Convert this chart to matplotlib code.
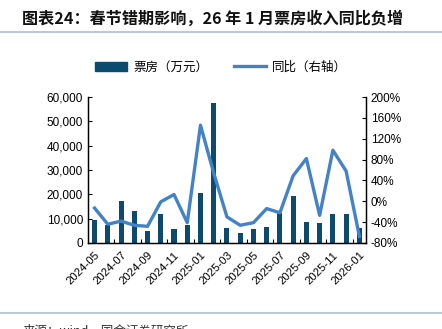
import matplotlib.pyplot as plt
from matplotlib.lines import Line2D
from matplotlib.patches import Patch
from matplotlib.ticker import FuncFormatter, MultipleLocator, FixedLocator
import numpy as np

plt.rcParams['font.family'] = ['Liberation Sans', 'Noto Sans CJK SC', 'DejaVu Sans']

months = ["2024-05", "2024-06", "2024-07", "2024-08", "2024-09", "2024-10", "2024-11",
          "2024-12", "2025-01", "2025-02", "2025-03", "2025-04", "2025-05", "2025-06",
          "2025-07", "2025-08", "2025-09", "2025-10", "2025-11", "2025-12", "2026-01"]
box_office = [9500, 7400, 17400, 13000, 4900, 11800, 5900, 7500, 20500, 57600, 6300,
              4100, 5600, 6400, 12200, 19300, 8700, 8400, 11800, 11900, 6300]
yoy = [-13, -44, -38, -46, -48, -1, 13, -41, 146, 54, -30, -46, -41, -14, -22, 49, 82,
       -27, 98, 58, -67]

bar_color = "#0c4a6e"
line_color = "#4383c5"

fig = plt.figure(figsize=(4.42, 3.29), dpi=100)
ax = fig.add_axes([0.199, 0.2614, 0.629, 0.4436])
ax2 = ax.twinx()

x = np.arange(len(months))
ax.bar(x, box_office, width=0.38, color=bar_color, zorder=2)
ax2.plot(x, yoy, color=line_color, lw=2.4, zorder=3)

ax.set_xlim(-0.5, len(months) - 0.5)
ax.set_ylim(0, 60000)
ax2.set_ylim(-80, 200)
ax.yaxis.set_major_locator(MultipleLocator(10000))
ax.yaxis.set_major_formatter(FuncFormatter(lambda v, p: f"{int(v):,}"))
ax2.yaxis.set_major_locator(MultipleLocator(40))
ax2.yaxis.set_major_formatter(FuncFormatter(lambda v, p: f"{int(v)}%"))

ax.set_xticks(x[::2])
ax.set_xticklabels(months[::2], rotation=45, ha="right", rotation_mode="anchor", fontsize=8.2)
ax.xaxis.set_minor_locator(FixedLocator(np.arange(1.5, len(months), 2)))
ax.tick_params(axis="x", which="major", length=0, pad=5)
ax.tick_params(axis="x", which="minor", length=3, direction="in", width=0.8)
ax.tick_params(axis="y", direction="in", length=3, labelsize=8.5, width=0.8)
ax2.tick_params(axis="y", direction="in", length=3, labelsize=8.5, width=0.8)

for a in (ax, ax2):
    a.spines["top"].set_visible(False)
    for s in ("left", "right", "bottom"):
        a.spines[s].set_linewidth(0.9)
ax.set_zorder(ax2.get_zorder() - 1)
ax2.patch.set_visible(False)
ax2.set_zorder(1)
ax.patch.set_visible(False)

fig.text(0.05, 0.945, "图表24：春节错期影响，26 年 1 月票房收入同比负增", fontsize=11.6,
         fontweight="bold", family=["Noto Sans CJK SC", "DejaVu Sans"], va="center",
         color="#111111")
fig.add_artist(Line2D([0, 1], [0.902, 0.902], color="#a8c0d4", lw=1.2))
fig.add_artist(Line2D([0, 1], [0.049, 0.049], color="#a8c0d4", lw=1.2))

handles = [Patch(color=bar_color), Line2D([0], [0], color=line_color, lw=2.4)]
fig.legend(handles, ["票房（万元）", "同比（右轴）"], loc="center", bbox_to_anchor=(0.5, 0.796),
           ncol=2, frameon=False, prop={"family": ["Noto Sans CJK SC"], "size": 9},
           handlelength=2.6, handleheight=0.7, columnspacing=2.0, handletextpad=0.5)

fig.text(0.05, 0.014, "来源：wind，国金证券研究所", fontsize=9, va="top", color="#333333",
         family=["Noto Sans CJK SC", "DejaVu Sans"])

fig.savefig("out.png", dpi=100)
